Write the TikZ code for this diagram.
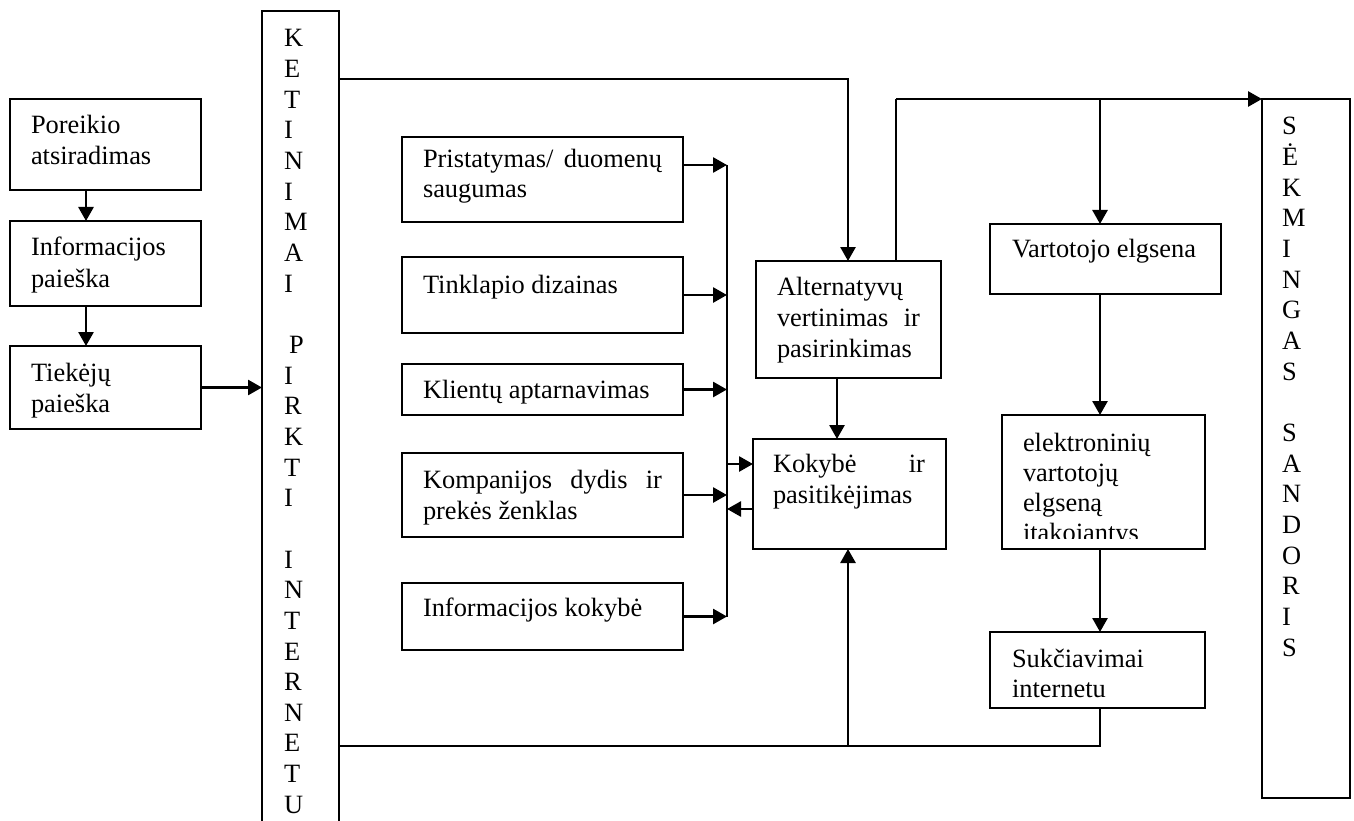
\documentclass[tikz,border=0pt]{standalone}
\usepackage{fontspec}
\setmainfont{Liberation Serif}
\usetikzlibrary{arrows.meta,calc}

\tikzset{
  rbox/.style={draw, line width=2pt, inner sep=0pt, outer sep=0pt},
  txt/.style={anchor=base west, inner sep=0pt, outer sep=0pt, font=\fontsize{26.4}{31}\selectfont},
  arr/.style={line width=2.7pt, -{Triangle[length=14pt,width=15pt]}},
  wire/.style={line width=2pt},
}

% box by corners: name, x1, y1, x2, y2 (y grows downwards)
\newcommand\boxat[5]{\node[rbox, minimum width={#4-#2}, minimum height={#5-#3}] (#1) at ({(#2+#4)/2},{(#3+#5)/2}) {};}
% one text line: name, x, baseline, text
\newcommand\tline[4]{\node[txt] (#1) at (#2,#3) {#4};}

\begin{document}
\begin{tikzpicture}[x=1pt,y=-1pt]
\useasboundingbox (0,0) rectangle (1354,821);
\clip (0,0) rectangle (1354,821);

% ---- boxes ----
\boxat{pore}{10}{99}{201}{190}
\boxat{info}{10}{221}{201}{306}
\boxat{tiek}{10}{346}{201}{429}
\boxat{ket}{262}{11}{339}{860}
\boxat{prist}{402}{137}{683}{222}
\boxat{tinkl}{402}{257}{683}{333}
\boxat{klient}{402}{364}{683}{415}
\boxat{komp}{402}{453}{683}{537}
\boxat{infok}{402}{583}{683}{650}
\boxat{alt}{756}{261}{941}{378}
\boxat{kok}{753}{439}{946}{549}
\boxat{vart}{990}{224}{1221}{294}
\boxat{elek}{1002}{415}{1205}{549}
\boxat{sukc}{990}{632}{1205}{708}
\boxat{sek}{1262}{99}{1350}{798}

% ---- box texts ----
\tline{pore1}{31}{134}{Poreikio}
\tline{pore2}{31}{165}{atsiradimas}
\tline{info1}{31}{255}{Informacijos}
\tline{info2}{31}{287}{paieška}
\tline{tiek1}{31}{381}{Tiekėjų}
\tline{tiek2}{31}{412}{paieška}
\tline{prist1}{423}{168}{\hbox to 239pt{Pristatymas/\hfill duomenų}}
\tline{prist2}{423}{198}{saugumas}
\tline{tinkl1}{423}{293}{Tinklapio dizainas}
\tline{klient1}{423}{398}{Klientų aptarnavimas}
\tline{komp1}{423}{488}{\hbox to 239pt{Kompanijos\hfill dydis\hfill ir}}
\tline{komp2}{423}{519}{prekės ženklas}
\tline{infok1}{423}{616}{Informacijos kokybė}
\tline{alt1}{777}{295}{Alternatyvų}
\tline{alt2}{777}{326}{\hbox to 143pt{vertinimas\hfill ir}}
\tline{alt3}{777}{357}{pasirinkimas}
\tline{kok1}{773}{472}{\hbox to 152pt{Kokybė\hfill ir}}
\tline{kok2}{773}{503}{pasitikėjimas}
\tline{vart1}{1012}{257}{Vartotojo elgsena}
\tline{elek1}{1023}{451}{elektroninių}
\tline{elek2}{1023}{481}{vartotojų}
\tline{elek3}{1023}{511}{elgseną}
\begin{scope}
  \clip (1002,415) rectangle (1205,538);
  \tline{elek4}{1023}{541}{įtakojantys}
\end{scope}
\tline{sukc1}{1012}{667}{Sukčiavimai}
\tline{sukc2}{1012}{697}{internetu}

% ---- vertical captions ----
\foreach \ch [count=\i from 0] in {K,E,T,I,N,I,M,A,I}
  \node[txt] (ka\i) at (284,{47+30.65*\i}) {\ch};
\node[txt] (kb10) at (289,{47+30.65*10}) {P};
\foreach \ch [count=\i from 11] in {I,R,K,T,I}
  \node[txt] (kb\i) at (284,{47+30.65*\i}) {\ch};
\foreach \ch [count=\i from 17] in {I,N,T,E,R,N,E,T,U}
  \node[txt] (kc\i) at (284,{47+30.65*\i}) {\ch};
\foreach \ch [count=\i from 0] in {S,Ė,K,M,I,N,G,A,S}
  \node[txt] (sa\i) at (1282,{135+30.65*\i}) {\ch};
\foreach \ch [count=\i from 10] in {S,A,N,D,O,R,I,S}
  \node[txt] (sb\i) at (1282,{135+30.65*\i}) {\ch};

% ---- connectors ----
\coordinate (xA) at (86,0);
\draw[arr] (pore.south -| xA) -- (info.north -| xA);
\draw[arr] (info.south -| xA) -- (tiek.north -| xA);
\draw[arr] (tiek.east) -- (tiek.east -| ket.west);

\coordinate (topA) at (848,79);
\draw[arr] (ket.east |- topA) -- (topA) -- (alt.north -| topA);

\coordinate (topB) at (896,99);
\draw[wire] (alt.north -| topB) -- (topB);
\draw[arr] (topB) -- (topB -| sek.west);

\coordinate (xR) at (1100,0);
\draw[arr] (topB -| xR) -- (vart.north -| xR);
\draw[arr] (vart.south -| xR) -- (elek.north -| xR);
\draw[arr] (elek.south -| xR) -- (sukc.north -| xR);

% factors collected on one vertical line
\coordinate (xC) at (727,0);
\draw[arr] ([yshift=14.5pt]prist.east) -- ([yshift=14.5pt]prist.east -| xC);
\draw[arr] (tinkl.east) -- (tinkl.east -| xC);
\draw[arr] (klient.east) -- (klient.east -| xC);
\draw[arr] (komp.east) -- (komp.east -| xC);
\draw[arr] (infok.east) -- (infok.east -| xC);
\draw[line width=2.6pt] ([yshift=14.5pt]prist.east -| xC) -- (infok.east -| xC);

\coordinate (kin) at (727,464);
\coordinate (kout) at (727,509);
\draw[arr] (kin) -- (kin -| kok.west);
\draw[arr] (kout -| kok.west) -- (kout);

\coordinate (xK) at (837,0);
\draw[arr] (alt.south -| xK) -- (kok.north -| xK);

% return line along the bottom
\coordinate (botA) at (848,746);
\draw[wire] (ket.east |- botA) -- (botA -| xR) -- (sukc.south -| xR);
\draw[arr] (botA) -- (kok.south -| botA);
\end{tikzpicture}
\end{document}
